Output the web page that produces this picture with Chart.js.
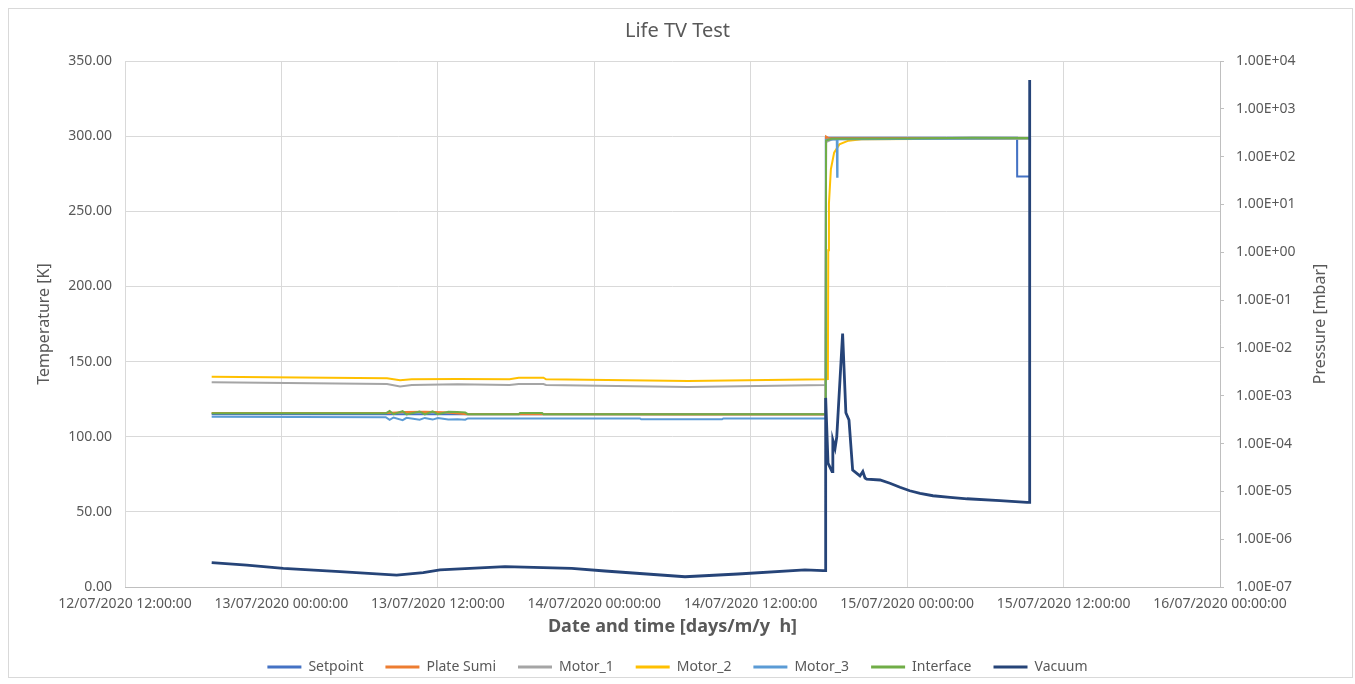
<!DOCTYPE html>
<html>
<head>
<meta charset="utf-8">
<script src="https://cdn.jsdelivr.net/npm/chart.js@4"></script>
<style>
html,body{margin:0;padding:0;background:#fff;}
canvas{display:block;}
</style>
</head>
<body>
<canvas id="c" width="1355" height="684"></canvas>
<script>
// Time in hours since 12/07/2020 00:00
const xTickHours = [12, 24, 36, 48, 60, 72, 84, 96];
const leftTicks = [0, 50, 100, 150, 200, 250, 300, 350];
const rightTickExps = [-7, -6, -5, -4, -3, -2, -1, 0, 1, 2, 3, 4];
const seriesNames = ["Setpoint", "Plate Sumi", "Motor_1", "Motor_2", "Motor_3", "Interface", "Vacuum"];
const seriesColors = ["#4472C4", "#ED7D31", "#A5A5A5", "#FFC000", "#5B9BD5", "#70AD47", "#264478"];

const setpointT = [18.65, 65.75, 65.76, 80.43, 80.44, 81.42, 81.43];
const setpointV = [115.0, 115.0, 298.9, 298.9, 273.2, 273.2, 298.9];

const plateT = [18.65, 32.1, 33.5, 35.0, 36.5, 38.2, 44.0, 55.0, 65.75, 65.78, 66.0, 70.0, 81.42];
const plateV = [115.8, 115.8, 116.4, 116.6, 116.2, 115.0, 114.9, 114.7, 114.8, 299.8, 298.6, 298.6, 298.7];

const motor1T = [18.65, 32.1, 33.1, 34.0, 37.5, 41.5, 42.2, 44.1, 44.3, 55.2, 65.75, 65.78, 66.3, 81.42];
const motor1V = [136.2, 135.1, 133.5, 134.4, 134.9, 134.4, 135.0, 135.0, 134.4, 133.1, 134.4, 296.0, 298.0, 298.5];

const motor2T = [18.65, 32.1, 33.1, 34.0, 37.5, 41.5, 42.2, 44.1, 44.3, 55.2, 65.75, 65.92, 65.95, 66.0, 66.15, 66.4, 66.8, 67.5, 68.5, 81.42];
const motor2V = [139.9, 138.9, 137.5, 138.2, 138.4, 138.2, 139.3, 139.3, 138.2, 137.0, 138.2, 138.4, 224.0, 255.0, 278.0, 289.0, 294.5, 297.0, 298.0, 298.5];

const motor3T = [18.65, 32.0, 32.3, 32.6, 33.3, 33.6, 34.6, 35.0, 35.6, 36.0, 36.8, 37.5, 38.1, 38.3, 51.5, 51.6, 57.8, 57.9, 65.75, 65.78, 66.6, 66.63, 66.66, 81.42];
const motor3V = [113.3, 113.0, 111.2, 112.8, 111.0, 112.6, 111.3, 112.5, 111.4, 112.5, 111.5, 111.6, 111.3, 112.2, 112.2, 111.6, 111.6, 112.2, 112.2, 297.5, 298.0, 273.0, 298.0, 298.5];

const interfaceT = [18.65, 32.0, 32.3, 32.6, 33.3, 33.6, 34.6, 35.0, 35.6, 36.0, 36.8, 37.5, 38.1, 38.3, 42.2, 42.3, 44.0, 44.1, 65.75, 65.78, 66.2, 72.0, 77.0, 81.42];
const interfaceV = [115.6, 115.6, 117.2, 115.0, 117.0, 114.8, 116.8, 114.8, 116.8, 115.0, 116.6, 116.4, 116.2, 115.0, 115.0, 115.8, 115.8, 115.0, 115.0, 297.0, 298.2, 298.4, 299.0, 298.7];

const vacuumT = [18.65, 21.34, 24.14, 28.49, 32.84, 34.88, 36.16, 40.0, 41.15, 46.27, 48.82, 54.96, 59.02, 64.16, 65.55, 65.72, 65.75, 65.93, 66.24, 66.3, 66.47, 66.6, 67.05, 67.3, 67.54, 67.82, 68.38, 68.6, 68.77, 68.9, 69.92, 70.68, 71.45, 72.2, 72.99, 73.98, 75.29, 76.59, 79.12, 81.19, 81.3, 81.35, 81.38, 81.4, 81.42];
const vacuumV = [3.22e-7, 2.88e-7, 2.46e-7, 2.09e-7, 1.78e-7, 1.99e-7, 2.27e-7, 2.58e-7, 2.66e-7, 2.46e-7, 2.16e-7, 1.64e-7, 1.87e-7, 2.27e-7, 2.19e-7, 2.2e-7, 9e-4, 3.9e-5, 2.6e-5, 1.18e-4, 8e-5, 1.37e-4, 2.0e-2, 4.4e-4, 3.1e-4, 2.8e-5, 2.1e-5, 2.6e-5, 1.9e-5, 1.8e-5, 1.73e-5, 1.48e-5, 1.22e-5, 1.03e-5, 9.1e-6, 8.1e-6, 7.5e-6, 7.0e-6, 6.4e-6, 5.9e-6, 5.9e-6, 5.9e-6, 2e-4, 1.0, 4.0e3];

const seriesT = [setpointT, plateT, motor1T, motor2T, motor3T, interfaceT, vacuumT];
const seriesV = [setpointV, plateV, motor1V, motor2V, motor3V, interfaceV, vacuumV];

const FONT = "'Noto Sans', 'DejaVu Sans', sans-serif";
const TXT = "#595959";

function pts(t, v) { return t.map((x, i) => ({x: x, y: v[i]})); }

const datasets = seriesNames.map((name, i) => ({
  label: name,
  data: pts(seriesT[i], seriesV[i]),
  borderColor: seriesColors[i],
  backgroundColor: seriesColors[i],
  borderWidth: i === 6 ? 2.8 : 2,
  pointRadius: 0,
  tension: 0,
  fill: false,
  yAxisID: i === 6 ? 'y2' : 'y',
  order: 6 - i
}));

function fmtDate(h) {
  const day = 12 + Math.floor(h / 24);
  const hr = Math.round(h % 24);
  return String(day).padStart(2, '0') + '/07/2020 ' + String(hr).padStart(2, '0') + ':00:00';
}
function fmtExp(v) {
  const e = Math.round(Math.log10(v));
  return '1.00E' + (e < 0 ? '-' : '+') + String(Math.abs(e)).padStart(2, '0');
}

const frame = {
  id: 'frame',
  beforeDraw(chart) {
    const ctx = chart.ctx;
    ctx.save();
    ctx.fillStyle = '#ffffff';
    ctx.fillRect(0, 0, chart.width, chart.height);
    ctx.strokeStyle = '#D9D9D9';
    ctx.lineWidth = 1;
    ctx.strokeRect(8.5, 8.5, 1344, 669);
    ctx.restore();
  },
  afterDraw(chart) {
    const ctx = chart.ctx;
    const a = chart.chartArea;
    ctx.save();
    ctx.translate(1320, (a.top + a.bottom) / 2);
    ctx.rotate(-Math.PI / 2);
    ctx.font = "16px " + FONT;
    ctx.fillStyle = TXT;
    ctx.textAlign = 'center';
    ctx.textBaseline = 'middle';
    ctx.fillText('Pressure [mbar]', 0, 0);
    ctx.restore();
  }
};

new Chart(document.getElementById('c'), {
  type: 'line',
  data: { datasets: datasets },
  plugins: [frame],
  options: {
    responsive: false,
    animation: false,
    devicePixelRatio: 1,
    layout: { padding: { left: 8, right: 8, top: 8, bottom: 0 } },
    plugins: {
      title: {
        display: true,
        text: 'Life TV Test',
        color: TXT,
        font: { family: FONT, size: 20, weight: 'normal' },
        padding: { top: 11, bottom: 18 }
      },
      legend: {
        position: 'bottom',
        labels: {
          color: TXT,
          font: { family: FONT, size: 14 },
          boxWidth: 34,
          boxHeight: 3,
          padding: 22,
          sort: (a, b) => a.datasetIndex - b.datasetIndex,
          generateLabels(chart) {
            const items = Chart.defaults.plugins.legend.labels.generateLabels(chart);
            return items.map(it => Object.assign(it, { fillStyle: seriesColors[it.datasetIndex], lineWidth: 0, strokeStyle: seriesColors[it.datasetIndex] }));
          }
        }
      },
      tooltip: { enabled: false }
    },
    scales: {
      x: {
        type: 'linear',
        min: 12, max: 96,
        afterBuildTicks(s) { s.ticks = xTickHours.map(v => ({ value: v })); },
        afterFit(s) { s.height = 51; },
        ticks: {
          autoSkip: false, maxRotation: 0, minRotation: 0, padding: 9,
          color: TXT, font: { family: FONT, size: 14 },
          callback: v => fmtDate(v)
        },
        grid: { color: '#D9D9D9', drawTicks: false },
        border: { color: '#BFBFBF' },
        title: {
          display: true, text: 'Date and time [days/m/y  h]', color: TXT,
          font: { family: FONT, size: 18, weight: 'bold' },
          padding: { top: 0, bottom: 0 }
        }
      },
      y: {
        position: 'left',
        min: 0, max: 350,
        afterBuildTicks(s) { s.ticks = leftTicks.map(v => ({ value: v })); },
        afterFit(s) { s.width = 117; },
        ticks: { padding: 13, color: TXT, font: { family: FONT, size: 14 }, callback: v => Number(v).toFixed(2) },
        grid: { color: '#D9D9D9', drawTicks: false },
        border: { display: false },
        title: {
          display: true, text: 'Temperature [K]', color: TXT,
          font: { family: FONT, size: 16 },
          padding: { top: 27, bottom: 0 }
        }
      },
      y2: {
        type: 'logarithmic',
        position: 'right',
        min: 1e-7, max: 1e4,
        afterBuildTicks(s) { s.ticks = rightTickExps.map(e => ({ value: Number('1e' + e) })); },
        afterFit(s) { s.width = 127; },
        ticks: { padding: 12, color: TXT, font: { family: FONT, size: 14 }, callback: v => fmtExp(v) },
        grid: { drawOnChartArea: false, drawTicks: true, tickLength: 4, color: '#BFBFBF' },
        border: { color: '#BFBFBF' }
      }
    }
  }
});
</script>
</body>
</html>
